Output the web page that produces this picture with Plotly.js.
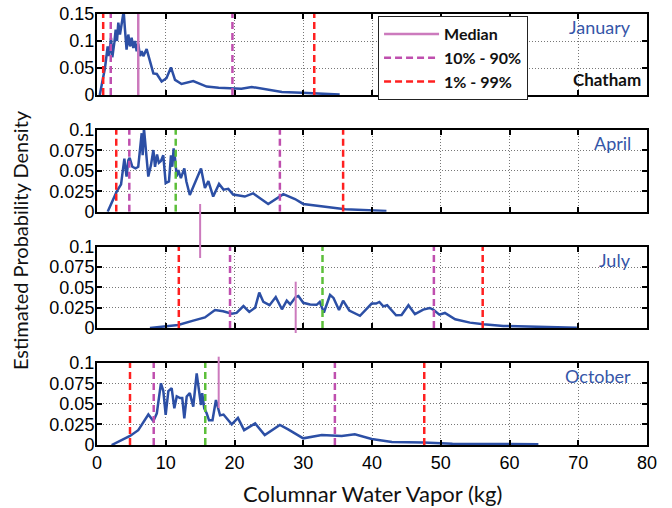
<!DOCTYPE html>
<html>
<head>
<meta charset="utf-8">
<script src="https://cdn.plot.ly/plotly-3.0.1.min.js"></script>
<style>html,body{margin:0;padding:0;background:#fff}#chart{width:672px;height:508px}</style>
</head>
<body>
<div id="chart"></div>
<script>
// ---- Data ----
const xTicks = [0, 10, 20, 30, 40, 50, 60, 70, 80];
const months = ['January', 'April', 'July', 'October'];
const station = 'Chatham';

const janX = [0.4,1.16,1.55,1.75,2.04,2.23,2.52,2.72,2.91,3.1,3.34,3.6,3.88,4.07,4.3,4.55,4.8,5.04,5.28,5.53,5.77,6.0,6.25,6.5,6.74,7.22,7.7,8.2,8.7,9.4,10.1,10.76,11.35,12.3,14.0,15.95,17.7,19.6,21.0,22.5,24.4,26.9,29.8,33.0,35.3];
const janY = [0,0.05,0.09,0.072,0.106,0.07,0.097,0.121,0.1,0.134,0.112,0.131,0.155,0.121,0.084,0.112,0.09,0.106,0.087,0.1,0.081,0.095,0.072,0.081,0.072,0.085,0.065,0.04,0.039,0.025,0.031,0.051,0.028,0.0205,0.026,0.0156,0.0137,0.0118,0.0118,0.015,0.011,0.0056,0.004,0.002,0.001];

const aprX = [1.55,2.86,3.5,3.98,4.3,4.56,4.75,5.14,5.6,6.0,6.5,6.64,6.83,6.98,7.22,7.46,7.85,8.2,8.44,8.73,9.0,9.3,9.64,9.99,10.47,10.76,10.95,11.15,11.35,11.6,11.83,12.2,12.7,13.0,13.5,14.25,15.13,15.7,16.2,16.9,17.75,18.4,19.1,19.8,21.5,22.7,24.9,27.1,28.8,30.0,31.7,33.6,36.1,42.1];
const aprY = [0,0.0245,0.0335,0.065,0.043,0.063,0.066,0.055,0.053,0.055,0.096,0.069,0.102,0.086,0.06,0.043,0.057,0.0755,0.055,0.07,0.06,0.062,0.069,0.035,0.037,0.069,0.055,0.0775,0.065,0.043,0.051,0.041,0.053,0.037,0.0205,0.036,0.053,0.029,0.0375,0.0185,0.034,0.027,0.028,0.021,0.0185,0.0225,0.0095,0.0215,0.0155,0.0095,0.0075,0.0055,0.003,0.001];

const julX = [7.7,11.8,14.0,15.7,17.16,18.35,19.6,20.3,21.3,22.15,23.0,23.6,24.2,25.1,26.0,26.9,27.6,28.1,28.9,29.3,30.0,31.0,31.95,32.4,33.0,33.9,34.4,35.2,35.8,36.7,38.25,39.95,40.6,41.07,41.65,42.2,43.5,44.3,45.3,46.25,47.45,48.4,48.9,49.8,50.6,52.1,54.25,56.2,59.1,64,69.8];
const julY = [0,0.0037,0.009,0.013,0.022,0.0205,0.0176,0.0185,0.027,0.0197,0.025,0.0435,0.032,0.028,0.038,0.023,0.0336,0.029,0.038,0.0394,0.031,0.029,0.0285,0.032,0.019,0.0406,0.037,0.022,0.0336,0.0215,0.015,0.030,0.030,0.032,0.0266,0.028,0.0156,0.016,0.028,0.017,0.0226,0.0246,0.0226,0.0164,0.0185,0.0107,0.0066,0.0045,0.0025,0.0012,0.0003];

const octX = [2.13,4.8,6.0,7.47,8.2,8.7,9.3,9.65,9.99,10.38,10.86,11.25,11.6,12.1,12.4,12.7,13.05,13.5,14.0,14.5,14.85,15.13,15.3,15.6,15.95,16.3,16.8,17.3,17.9,18.4,19.6,20.5,21.4,23.0,24.4,26.6,27.8,30.0,32.7,35.6,37.5,39.95,42.9,47.5,51.7,64.2];
const octY = [0,0.011,0.018,0.037,0.029,0.0385,0.075,0.0655,0.0365,0.0655,0.069,0.0446,0.059,0.057,0.057,0.0324,0.059,0.063,0.0466,0.087,0.0655,0.0486,0.063,0.0446,0.0385,0.030,0.030,0.0547,0.036,0.037,0.025,0.033,0.018,0.0263,0.012,0.0243,0.019,0.0081,0.0122,0.011,0.013,0.0073,0.0036,0.003,0.0015,0.001];

// percentiles per month (January, April, July, October)
const p1Vals   = [0.9, 2.8, 11.9, 4.8];
const p10Vals  = [2.0, 4.7, 19.35, 8.25];
const medVals  = [6.0, 15.0, 28.9, 17.7];
const p90Vals  = [19.7, 26.6, 49.0, 34.6];
const p99Vals  = [31.6, 35.8, 56.1, 47.6];
const greenVals = [null, 11.45, 32.8, 15.75];

const yMaxes = [0.15, 0.1, 0.1, 0.1];
const yTickVals1 = [0, 0.05, 0.1, 0.15];
const yTickText1 = ['0', '0.05', '0.1', '0.15'];
const yTickVals2 = [0, 0.025, 0.05, 0.075, 0.1];
const yTickText2 = ['0', '0.025', '0.05', '0.075', '0.1'];
const legendNames = ['Median', '10% - 90%', '1% - 99%'];

// ---- Styles ----
const C_CURVE = '#2c4fa5', C_MED = '#cc7abd', C_P10 = '#bf4fae', C_P1 = '#ff2020', C_GREEN = '#5cbf3a';
const DASH = '7px,4px';
const curvesX = [janX, aprX, julX, octX];
const curvesY = [janY, aprY, julY, octY];
const domains = [[0.812, 1.0], [0.5413, 0.7309], [0.2715, 0.4601], [0, 0.191]];

const traces = [];
for (let i = 0; i < 4; i++) {
  const xa = i === 0 ? 'x' : 'x' + (i + 1);
  const ya = i === 0 ? 'y' : 'y' + (i + 1);
  traces.push({x: curvesX[i], y: curvesY[i], xaxis: xa, yaxis: ya, mode: 'lines',
    line: {color: C_CURVE, width: 2.5}, showlegend: false, hoverinfo: 'skip'});
  const vl = (v, color, dash, name, show) => ({x: [v, v], y: [0, yMaxes[i]], xaxis: xa, yaxis: ya,
    mode: 'lines', line: {color: color, width: 2.5, dash: dash}, name: name, showlegend: show, hoverinfo: 'skip'});
  if (i === 0) traces.push(vl(medVals[i], C_MED, 'solid', legendNames[0], true));
  traces.push(vl(p10Vals[i], C_P10, DASH, legendNames[1], i === 0));
  traces.push(vl(p1Vals[i], C_P1, DASH, legendNames[2], i === 0));
  traces.push(vl(p90Vals[i], C_P10, DASH, legendNames[1], false));
  traces.push(vl(p99Vals[i], C_P1, DASH, legendNames[2], false));
  if (greenVals[i] !== null) traces.push(vl(greenVals[i], C_GREEN, DASH, '', false));
}

// misplaced median markers (short segments), paper y-extents
const medSegY = [null, [0.4339, 0.5592], [0.2599, 0.3789], [0.0858, 0.2049]];
const shapes = [];
for (let i = 1; i < 4; i++) {
  const xa = 'x' + (i + 1);
  shapes.push({type: 'line', xref: xa, yref: 'paper', x0: medVals[i], x1: medVals[i],
    y0: medSegY[i][0], y1: medSegY[i][1], line: {color: C_MED, width: 2}});
}

const tickFont = {family: 'Liberation Sans, Arial, sans-serif', size: 18, color: '#000'};
const baseAxis = {ticks: 'inside', ticklen: 5, tickwidth: 2, tickcolor: '#000', showline: true,
  linewidth: 2, linecolor: '#000', mirror: 'ticks', showgrid: true, gridcolor: '#777',
  griddash: '1px,2px', gridwidth: 1, zeroline: false, tickfont: tickFont, fixedrange: true};

const layout = {width: 672, height: 508, margin: {l: 97, r: 25, t: 14, b: 63},
  paper_bgcolor: '#fff', plot_bgcolor: '#fff', showlegend: true,
  legend: {x: 0.511, y: 0.9954, xanchor: 'left', yanchor: 'top', bgcolor: '#fff',
    bordercolor: '#222', borderwidth: 1, font: {family: 'Lato, sans-serif', size: 16, color: '#111', weight: 'bold'},
    tracegroupgap: 0, itemwidth: 55},
  shapes: shapes, annotations: []};

for (let i = 0; i < 4; i++) {
  const xk = i === 0 ? 'xaxis' : 'xaxis' + (i + 1);
  const yk = i === 0 ? 'yaxis' : 'yaxis' + (i + 1);
  const yid = i === 0 ? 'y' : 'y' + (i + 1);
  const xid = i === 0 ? 'x' : 'x' + (i + 1);
  layout[xk] = Object.assign({}, baseAxis, {range: [0, 80], tickvals: xTicks, ticktext: xTicks.map(String),
    showticklabels: i === 3, anchor: yid, domain: [0, 1]});
  layout[yk] = Object.assign({}, baseAxis, {range: [0, yMaxes[i]], domain: domains[i], anchor: xid,
    tickvals: i === 0 ? yTickVals1 : yTickVals2, ticktext: i === 0 ? yTickText1 : yTickText2,
    ticklabelstandoff: -3});
  layout.annotations.push({xref: xid + ' domain', yref: yid + ' domain', x: 0.975, y: 0.84,
    xanchor: 'right', yanchor: 'middle', text: months[i], showarrow: false,
    font: {family: 'Lato, sans-serif', size: 18, color: '#3556a8'}});
}
layout.annotations.push({xref: 'x domain', yref: 'y domain', x: 0.992, y: 0.187, xanchor: 'right',
  yanchor: 'middle', text: '<b>' + station + '</b>', showarrow: false,
  font: {family: 'Lato, sans-serif', size: 17, color: '#111'}});
layout.annotations.push({xref: 'paper', yref: 'paper', x: -0.14, y: 0.4756, xanchor: 'center', yanchor: 'middle',
  textangle: -90, text: 'Estimated Probability Density', showarrow: false,
  font: {family: 'Lato, sans-serif', size: 20, color: '#111'}});
layout.annotations.push({xref: 'paper', yref: 'paper', x: 0.5, y: -0.1114, xanchor: 'center', yanchor: 'middle',
  text: 'Columnar Water Vapor (kg)', showarrow: false,
  font: {family: 'Lato, sans-serif', size: 22, color: '#111'}});

Plotly.newPlot('chart', traces, layout, {staticPlot: true, displayModeBar: false});
</script>
</body>
</html>
